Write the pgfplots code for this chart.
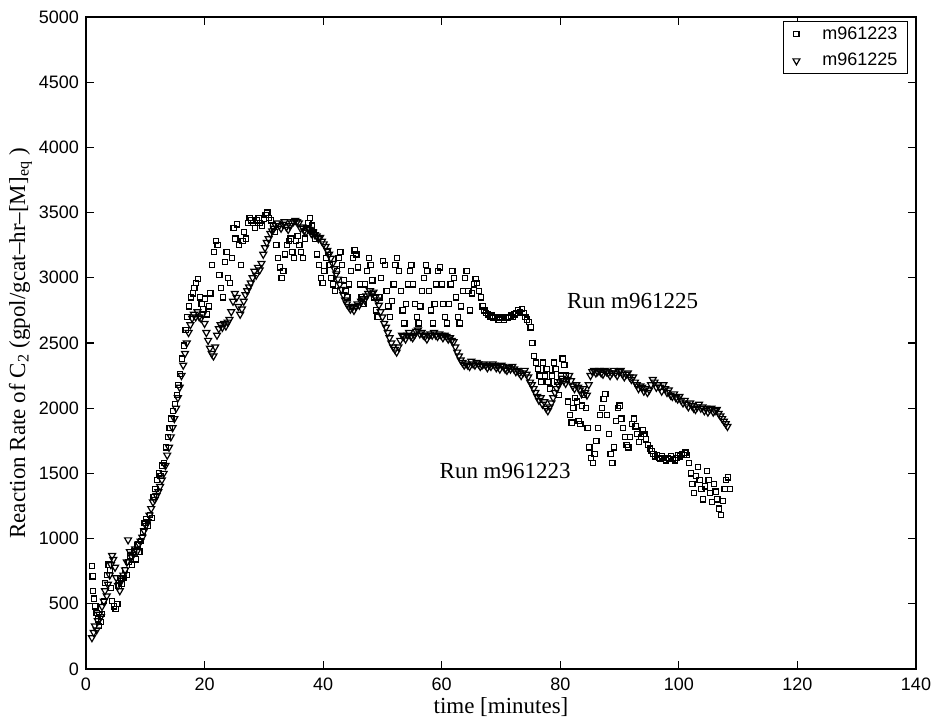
\documentclass[border=0pt]{standalone}
\usepackage{pgfplots}
\pgfplotsset{compat=1.18}
\usepackage{fontspec}
\setmainfont{Liberation Serif}
\newfontfamily\sansf{Liberation Sans}
\begin{document}
\begin{tikzpicture}
\begin{axis}[
  scale only axis, width=415pt, height=326pt,
  xmin=0, xmax=140, ymin=0, ymax=5000,
  xtick={0,20,...,140}, ytick={0,500,...,5000},
  tick align=inside, tick pos=both, major tick length=4pt,
  axis line style={line width=0.6pt}, every tick/.style={line width=0.6pt, black},
  /pgf/number format/assume math mode=true,
  /pgf/number format/1000 sep={},
  ticklabel style={font=\sansf\fontsize{9}{10.8}\selectfont},
  xticklabel style={yshift=-1pt},
  xlabel={time [minutes]},
  ylabel={Reaction Rate of C\textsubscript{2} (gpol/gcat--hr--[M]\textsubscript{eq} )},
  label style={font=\fontsize{11.5}{13}\selectfont},
  xlabel style={at={(axis description cs:0.5,0)}, anchor=center, yshift=-19pt},
  ylabel style={at={(axis description cs:-0.079,0.5)}, anchor=center},
  legend style={at={(axis description cs:1,1)}, anchor=north east, xshift=-4pt, yshift=-2pt,
    draw=black, line width=0.5pt, font=\sansf\fontsize{9}{10.8}\selectfont,
    inner xsep=3pt, inner ysep=0.5pt, row sep=1.5pt, nodes={inner sep=2pt}},
  legend cell align=left,
  legend image code/.code={\path[draw=none, fill=none] (0pt,0pt) rectangle (14.5pt,0pt); \draw[#1] plot coordinates {(3.5pt,0cm)};},
]
\addplot[only marks, mark=square, mark size=1.3pt, mark options={line width=0.6pt, black}] coordinates {
(1.0,790) (1.1,710) (1.2,600) (1.4,540) (1.6,480) (1.8,430) (2.0,380) (2.2,330) (2.5,360) (2.7,420) (3.0,520) (3.2,660) (3.5,720) (3.8,800) (4.0,760) (4.2,620) (4.4,520) (4.7,480) (5.0,460) (5.3,500) (5.5,640) (5.8,700) (6.0,650) (6.3,700) (6.6,760) (6.9,720) (7.2,820) (7.5,870) (7.8,800) (8.1,900) (8.4,840) (8.7,950) (9.0,900) (9.3,980) (9.6,1050) (9.9,1120) (10.2,1150) (10.5,1100) (10.8,1180) (11.1,1160) (11.4,1320) (11.7,1380) (12.0,1450) (12.3,1500) (12.6,1480) (12.9,1560) (13.2,1580) (13.5,1700) (13.8,1780) (14.1,1850) (14.4,1920) (14.7,1980) (15.0,2030) (15.3,2100) (15.6,2180) (15.9,2260) (16.2,2380) (16.5,2480) (16.8,2600) (17.1,2700) (17.4,2780) (17.7,2850) (18.0,2880) (18.3,2920) (18.6,2960) (18.9,2990) (19.2,2850) (19.5,2800) (19.8,2760) (20.1,2840) (20.4,2720) (20.7,2780) (21.0,2880) (21.3,3100) (21.6,3200) (21.9,3280) (22.2,3250) (22.5,3020) (22.8,2920) (23.1,2850) (23.4,3120) (23.7,3200) (24.0,3000) (24.3,2960) (24.6,3150) (24.9,3380) (25.2,3300) (25.5,3410) (25.8,3250) (26.1,3100) (26.4,3280) (26.7,3350) (27.0,3300) (27.3,3420) (27.6,3460) (27.9,3440) (28.2,3420) (28.5,3380) (28.8,3440) (29.1,3460) (29.4,3420) (29.7,3400) (30.0,3450) (30.3,3480) (30.6,3500) (30.9,3460) (31.2,3440) (31.5,3400) (31.8,3350) (32.1,3250) (32.4,3150) (32.7,3080) (33.0,3000) (33.3,3050) (33.6,3180) (33.9,3250) (34.2,3280) (34.5,3300) (34.8,3200) (35.1,3150) (35.4,3280) (35.7,3320) (36.0,3250) (36.3,3200) (36.6,3150) (36.9,3300) (37.2,3380) (37.5,3420) (37.8,3460) (38.1,3400) (38.4,3350) (38.7,3300) (39.0,3180) (39.3,3100) (39.6,3000) (39.9,2960) (40.2,3050) (40.5,3150) (40.8,3200) (41.1,3100) (41.4,3000) (41.7,2950) (42.0,2900) (42.3,3050) (42.6,3150) (42.9,3200) (43.2,3100) (43.5,2980) (43.8,2900) (44.1,2850) (44.4,2950) (44.7,3050) (45.0,3150) (45.3,3210) (45.6,3180) (45.9,3080) (46.2,2950) (46.5,2850) (46.8,2800) (47.1,2950) (47.4,3050) (47.7,3150) (48.0,3100) (48.3,2980) (48.6,2850) (48.9,2750) (49.2,2700) (49.5,2850) (49.8,3000) (50.1,3130) (50.4,3100) (50.7,2900) (51.0,2780) (51.3,2700) (51.6,2820) (51.9,2950) (52.2,3100) (52.5,3150) (52.8,3050) (53.1,2900) (53.4,2750) (53.7,2650) (54.0,2800) (54.3,2950) (54.6,3050) (54.9,3100) (55.2,2950) (55.5,2800) (55.8,2700) (56.1,2650) (56.4,2780) (56.7,2900) (57.0,3000) (57.3,3100) (57.6,3050) (57.9,2900) (58.2,2750) (58.5,2650) (58.8,2800) (59.1,2950) (59.4,3050) (59.7,3080) (60.0,2950) (60.3,2800) (60.6,2700) (60.9,2650) (61.2,2800) (61.5,2950) (61.8,3050) (62.1,3000) (62.4,2850) (62.7,2700) (63.0,2650) (63.3,2780) (63.6,2900) (63.9,3000) (64.2,3050) (64.5,2900) (64.8,2750) (65.1,2880) (65.4,2950) (65.7,2990) (66.0,2960) (66.3,2900) (66.6,2850) (66.9,2780) (67.2,2750) (67.5,2730) (67.8,2720) (68.1,2700) (68.4,2710) (68.7,2690) (69.0,2700) (69.3,2690) (69.6,2680) (69.9,2700) (70.2,2690) (70.5,2680) (70.8,2700) (71.1,2690) (71.4,2700) (71.7,2710) (72.0,2700) (72.3,2720) (72.6,2730) (72.9,2750) (73.2,2740) (73.5,2760) (73.8,2730) (74.1,2700) (74.4,2680) (74.7,2660) (75.0,2620) (75.3,2500) (75.6,2400) (75.9,2350) (76.2,2300) (76.5,2250) (76.8,2200) (77.1,2350) (77.4,2250) (77.7,2300) (78.0,2200) (78.3,2150) (78.6,2250) (78.9,2350) (79.2,2300) (79.5,2200) (79.8,2100) (80.1,2250) (80.4,2380) (80.7,2330) (81.0,2250) (81.3,2050) (81.6,1950) (81.9,1890) (82.2,2000) (82.5,2080) (82.8,2050) (83.1,1900) (83.4,1880) (83.7,2020) (84.0,2100) (84.3,2000) (84.6,1850) (84.9,1700) (85.2,1620) (85.5,1580) (85.8,1650) (86.1,1750) (86.4,1850) (86.7,1950) (87.0,2000) (87.3,2070) (87.6,2110) (87.9,1950) (88.2,1800) (88.5,1650) (88.8,1580) (89.1,1700) (89.4,1900) (89.7,2000) (90.0,2020) (90.3,1920) (90.6,1850) (90.9,1780) (91.2,1720) (91.5,1700) (91.8,1780) (92.1,1880) (92.4,1920) (92.7,1860) (93.0,1800) (93.3,1740) (93.6,1780) (93.9,1830) (94.2,1800) (94.5,1760) (94.8,1720) (95.1,1690) (95.4,1670) (95.7,1650) (96.0,1630) (96.3,1640) (96.6,1620) (96.9,1610) (97.2,1630) (97.5,1620) (97.8,1600) (98.1,1620) (98.4,1610) (98.7,1630) (99.0,1610) (99.3,1600) (99.6,1620) (99.9,1640) (100.2,1630) (100.5,1650) (100.8,1640) (101.1,1660) (101.4,1640) (101.7,1580) (102.0,1500) (102.3,1420) (102.6,1350) (102.9,1480) (103.2,1550) (103.5,1450) (103.8,1380) (104.1,1300) (104.4,1400) (104.7,1520) (105.0,1450) (105.3,1350) (105.6,1280) (105.9,1420) (106.2,1360) (106.5,1300) (106.8,1230) (107.1,1180) (107.4,1290) (107.7,1380) (108.0,1450) (108.3,1470) (108.6,1380)
};
\addlegendentry{m961223}
\addplot[only marks, mark=triangle, mark size=2pt, mark options={rotate=180, line width=0.6pt, black}] coordinates {
(1.0,240) (1.3,280) (1.5,330) (1.8,300) (2.0,370) (2.2,420) (2.5,400) (2.7,480) (3.0,520) (3.2,600) (3.5,560) (3.7,650) (4.0,720) (4.2,800) (4.4,870) (4.6,840) (4.9,780) (5.1,700) (5.4,640) (5.7,600) (6.0,680) (6.3,720) (6.6,760) (6.9,820) (7.1,990) (7.4,900) (7.7,860) (8.0,880) (8.3,920) (8.6,900) (8.9,960) (9.2,980) (9.5,1010) (9.8,1060) (10.1,1100) (10.4,1130) (10.7,1180) (11.0,1230) (11.3,1280) (11.6,1300) (11.9,1330) (12.2,1360) (12.5,1400) (12.8,1450) (13.1,1500) (13.4,1560) (13.7,1640) (14.0,1700) (14.3,1780) (14.6,1850) (14.9,1920) (15.2,2000) (15.5,2080) (15.8,2160) (16.1,2250) (16.4,2330) (16.7,2420) (17.0,2500) (17.3,2580) (17.6,2640) (17.9,2690) (18.2,2720) (18.5,2700) (18.8,2740) (19.1,2700) (19.4,2690) (19.7,2720) (20.0,2650) (20.3,2580) (20.6,2520) (20.9,2460) (21.2,2420) (21.5,2400) (21.8,2470) (22.1,2560) (22.4,2610) (22.7,2640) (23.0,2620) (23.3,2650) (23.6,2630) (23.9,2660) (24.2,2680) (24.5,2740) (24.8,2820) (25.1,2880) (25.4,2850) (25.7,2780) (26.0,2720) (26.3,2760) (26.6,2820) (26.9,2870) (27.2,2900) (27.5,2930) (27.8,2960) (28.1,3000) (28.4,3050) (28.7,3020) (29.0,3080) (29.3,3060) (29.6,3110) (29.9,3180) (30.2,3230) (30.5,3270) (30.8,3300) (31.1,3340) (31.4,3360) (31.7,3380) (32.0,3400) (32.3,3420) (32.6,3400) (32.9,3380) (33.2,3410) (33.5,3430) (33.8,3390) (34.1,3370) (34.4,3400) (34.7,3420) (35.0,3430) (35.3,3440) (35.6,3430) (35.9,3420) (36.2,3380) (36.5,3390) (36.8,3360) (37.1,3350) (37.4,3380) (37.7,3370) (38.0,3340) (38.3,3350) (38.6,3330) (38.9,3320) (39.2,3300) (39.5,3310) (39.8,3280) (40.1,3260) (40.4,3240) (40.7,3210) (41.0,3180) (41.3,3150) (41.6,3110) (41.9,3070) (42.2,3030) (42.5,2990) (42.8,2950) (43.1,2910) (43.4,2870) (43.7,2830) (44.0,2800) (44.3,2780) (44.6,2760) (44.9,2770) (45.2,2750) (45.5,2780) (45.8,2800) (46.1,2790) (46.4,2820) (46.7,2840) (47.0,2830) (47.3,2860) (47.6,2880) (47.9,2900) (48.2,2880) (48.5,2890) (48.8,2850) (49.1,2830) (49.4,2790) (49.7,2740) (50.0,2700) (50.3,2650) (50.6,2620) (50.9,2580) (51.2,2540) (51.5,2500) (51.8,2470) (52.1,2450) (52.4,2430) (52.7,2470) (53.0,2520) (53.3,2560) (53.6,2550) (53.9,2530) (54.2,2560) (54.5,2580) (54.8,2550) (55.1,2540) (55.4,2560) (55.7,2590) (56.0,2600) (56.3,2570) (56.6,2580) (56.9,2560) (57.2,2550) (57.5,2530) (57.8,2560) (58.1,2570) (58.4,2560) (58.7,2580) (59.0,2560) (59.3,2550) (59.6,2570) (59.9,2560) (60.2,2540) (60.5,2560) (60.8,2550) (61.1,2530) (61.4,2540) (61.7,2520) (62.0,2510) (62.3,2470) (62.6,2430) (62.9,2400) (63.2,2370) (63.5,2350) (63.8,2330) (64.1,2340) (64.4,2330) (64.7,2320) (65.0,2360) (65.3,2340) (65.6,2330) (65.9,2350) (66.2,2340) (66.5,2320) (66.8,2330) (67.1,2340) (67.4,2330) (67.7,2310) (68.0,2330) (68.3,2320) (68.6,2340) (68.9,2330) (69.2,2310) (69.5,2320) (69.8,2300) (70.1,2330) (70.4,2320) (70.7,2300) (71.0,2290) (71.3,2310) (71.6,2300) (71.9,2320) (72.2,2300) (72.5,2280) (72.8,2290) (73.1,2270) (73.4,2250) (73.7,2270) (74.0,2290) (74.3,2260) (74.6,2240) (74.9,2200) (75.2,2180) (75.5,2150) (75.8,2120) (76.1,2090) (76.4,2060) (76.7,2080) (77.0,2030) (77.3,2050) (77.6,2000) (77.9,1980) (78.2,2010) (78.5,2040) (78.8,2080) (79.1,2120) (79.4,2150) (79.7,2180) (80.0,2200) (80.3,2230) (80.6,2210) (80.9,2190) (81.2,2220) (81.5,2250) (81.8,2210) (82.1,2170) (82.4,2150) (82.7,2180) (83.0,2160) (83.3,2140) (83.6,2110) (83.9,2150) (84.2,2120) (84.5,2100) (84.8,2180) (85.1,2250) (85.4,2280) (85.7,2290) (86.0,2270) (86.3,2280) (86.6,2290) (86.9,2270) (87.2,2260) (87.5,2290) (87.8,2280) (88.1,2270) (88.4,2250) (88.7,2270) (89.0,2290) (89.3,2270) (89.6,2250) (89.9,2280) (90.2,2290) (90.5,2260) (90.8,2240) (91.1,2260) (91.4,2270) (91.7,2240) (92.0,2220) (92.3,2240) (92.6,2200) (92.9,2180) (93.2,2150) (93.5,2170) (93.8,2160) (94.1,2130) (94.4,2150) (94.7,2120) (95.0,2140) (95.3,2180) (95.6,2220) (95.9,2200) (96.2,2160) (96.5,2180) (96.8,2160) (97.1,2130) (97.4,2180) (97.7,2150) (98.0,2120) (98.3,2140) (98.6,2100) (98.9,2090) (99.2,2110) (99.5,2080) (99.8,2070) (100.1,2090) (100.4,2060) (100.7,2040) (101.0,2060) (101.3,2030) (101.6,2010) (101.9,2040) (102.2,2020) (102.5,2000) (102.8,1990) (103.1,2010) (103.4,2030) (103.7,2000) (104.0,2010) (104.3,1980) (104.6,2000) (104.9,1970) (105.2,1990) (105.5,2000) (105.8,1970) (106.1,1980) (106.4,1990) (106.7,1960) (107.0,1940) (107.3,1920) (107.6,1900) (107.9,1880) (108.2,1860)
};
\addlegendentry{m961225}
\node[font=\fontsize{11.5}{13}\selectfont] at (axis cs:92.2,2822) {Run m961225};
\node[font=\fontsize{11.5}{13}\selectfont] at (axis cs:70.7,1515) {Run m961223};
\end{axis}
\pgfresetboundingbox
\path[use as bounding box] ([shift={(-43pt,-24pt)}]current axis.south west) rectangle ([shift={(8.5pt,8.5pt)}]current axis.north east);
\end{tikzpicture}
\end{document}
